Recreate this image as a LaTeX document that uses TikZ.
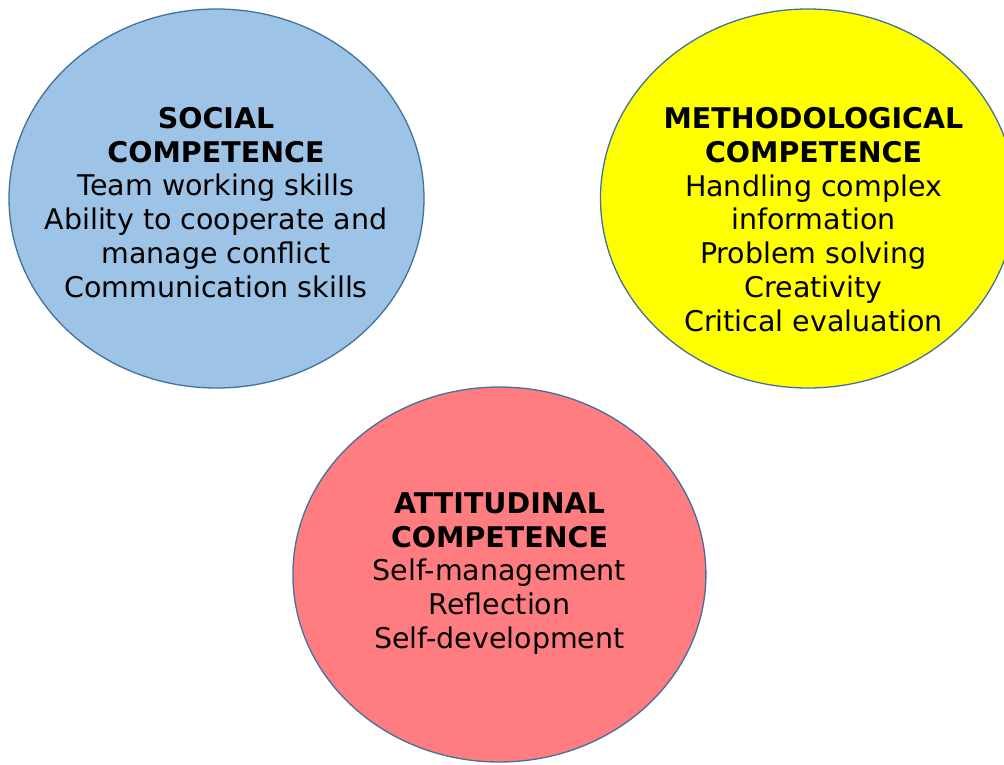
\documentclass[tikz,border=0pt]{standalone}
\usepackage{fontspec}
\setmainfont{DejaVu Sans}
\usetikzlibrary{shapes.geometric}
\definecolor{socialblue}{HTML}{9DC3E6}
\definecolor{methyellow}{HTML}{FFFF00}
\definecolor{attred}{HTML}{FF7C80}
\definecolor{edgeblue}{HTML}{41719C}
\tikzset{
  bubble/.style={ellipse, draw=edgeblue, line width=1.3pt, inner sep=0pt},
  bubbletext/.style={align=center, font=\fontsize{28.5}{33.8}\selectfont, text=black, inner sep=0pt}
}
\begin{document}
\begin{tikzpicture}[x=1pt,y=-1pt]
\useasboundingbox (0,0) rectangle (1004,764);
\clip (0,0) rectangle (1004,764);
\fill[white] (0,0) rectangle (1004,764);
\node[bubble, fill=socialblue, minimum width=415pt, minimum height=379pt] (social) at (216.5,198.5) {};
\node[bubble, fill=methyellow, minimum width=415pt, minimum height=379pt] (meth) at (808,198.5) {};
\node[bubble, fill=attred, minimum width=413pt, minimum height=375pt] (att) at (499.4,574.5) {};
\node[bubbletext] (socialtxt) at (216,202.5) {\textbf{SOCIAL}\\\textbf{COMPETENCE}\\Team working skills\\Ability to cooperate and\\manage conflict\\Communication skills};
\node[bubbletext] (methtxt) at (813.5,219.5) {\textbf{METHODOLOGICAL}\\\textbf{COMPETENCE}\\Handling complex\\information\\Problem solving\\Creativity\\Critical evaluation};
\node[bubbletext] (atttxt) at (499.5,573.5) {\textbf{ATTITUDINAL}\\\textbf{COMPETENCE}\\Self-management\\Reflection\\Self-development};
\end{tikzpicture}
\end{document}
